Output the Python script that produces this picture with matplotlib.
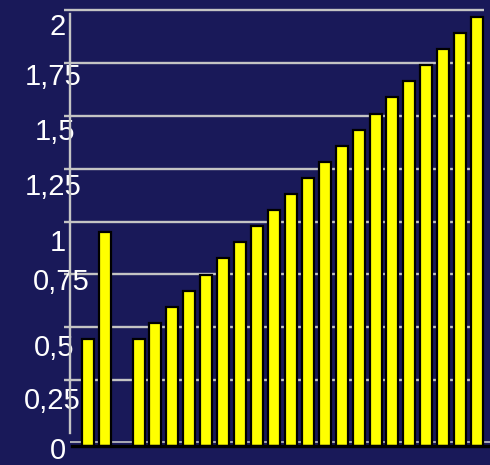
import matplotlib
matplotlib.use('Agg')
import matplotlib.pyplot as plt
import matplotlib.transforms as mtrans

plt.rcParams['font.family'] = ['Liberation Sans', 'DejaVu Sans']

# first group (two bars), then a gap, then the rising series
x_first = [0, 1]
vals_first = [0.5, 1.0]
x_second = [3, 4, 5, 6, 7, 8, 9, 10, 11, 12, 13, 14, 15, 16, 17, 18, 19, 20, 21, 22, 23]
vals_second = [0.5, 0.575, 0.65, 0.725, 0.8, 0.875, 0.95, 1.025, 1.1, 1.175, 1.25,
               1.325, 1.4, 1.475, 1.55, 1.625, 1.7, 1.775, 1.85, 1.925, 2.0]

ytick_vals = [0, 0.25, 0.5, 0.75, 1, 1.25, 1.5, 1.75, 2]
ytick_labels = ['0', '0,25', '0,5', '0,75', '1', '1,25', '1,5', '1,75', '2']

# the labels sit unevenly under their grid lines (pixels: right, down)
label_dx = [3, -2.5, -1, 6, 2.5, -2, 0, -2, 3]
label_dy = [17.5, 21, 21, 8, 21, 18, 16, 14.5, 16.5]

bg = '#191959'
grid_col = '#c4c4c4'

fig = plt.figure(figsize=(4.9, 4.65), dpi=100, facecolor=bg)
ax = fig.add_axes([70.3 / 490, 0, 419.7 / 490, 1])
ax.set_facecolor(bg)

# grid lines (own scale, slightly off from the bars like the original)
ax.hlines(ytick_vals[1:], -0.015, 0.986, transform=ax.get_yaxis_transform(),
          colors=grid_col, lw=1.7, clip_on=False, zorder=1)

for s in ['top', 'right', 'bottom']:
    ax.spines[s].set_visible(False)
ax.spines['left'].set_color(grid_col)
ax.spines['left'].set_linewidth(1.7)
ax.spines['left'].set_bounds(0, 1.98)

ax.set_xticks([])
ax.set_yticks(ytick_vals, ytick_labels)
ax.tick_params(axis='y', length=0, pad=11, labelsize=21, labelcolor='white')
for lab, dx, dy in zip(ax.get_yticklabels(), label_dx, label_dy):
    lab.set_ha('center')
    lab.set_va('center')
    lab.set_transform(lab.get_transform() +
                      mtrans.ScaledTranslation(dx / 100, -dy / 100, fig.dpi_scale_trans))

ax.set_xlim(-1.03, 23.76)
ax.set_ylim(-0.1513, 2.0473)

# bars on a twin axis with their own scale
ax2 = ax.twinx()
ax2.bar(x_first, vals_first, width=0.71, color='#ffff00', edgecolor='black', linewidth=1.6, zorder=2)
ax2.bar(x_second, vals_second, width=0.71, color='#ffff00', edgecolor='black', linewidth=1.6, zorder=2)
base_grey = ax2.axhline(0, xmin=0.0, xmax=1.0, color=grid_col, lw=1.2, zorder=1)
base_grey.set_transform(base_grey.get_transform() +
                        mtrans.ScaledTranslation(0, 4 / 100, fig.dpi_scale_trans))
ax2.axhline(0, xmin=0.003, xmax=1.0, color='black', lw=2.4, zorder=3)
ax2.set_ylim(-0.0871, 2.0787)
ax2.set_xlim(-1.03, 23.76)
ax2.axis('off')

fig.savefig('out.png', dpi=100, facecolor=bg)
